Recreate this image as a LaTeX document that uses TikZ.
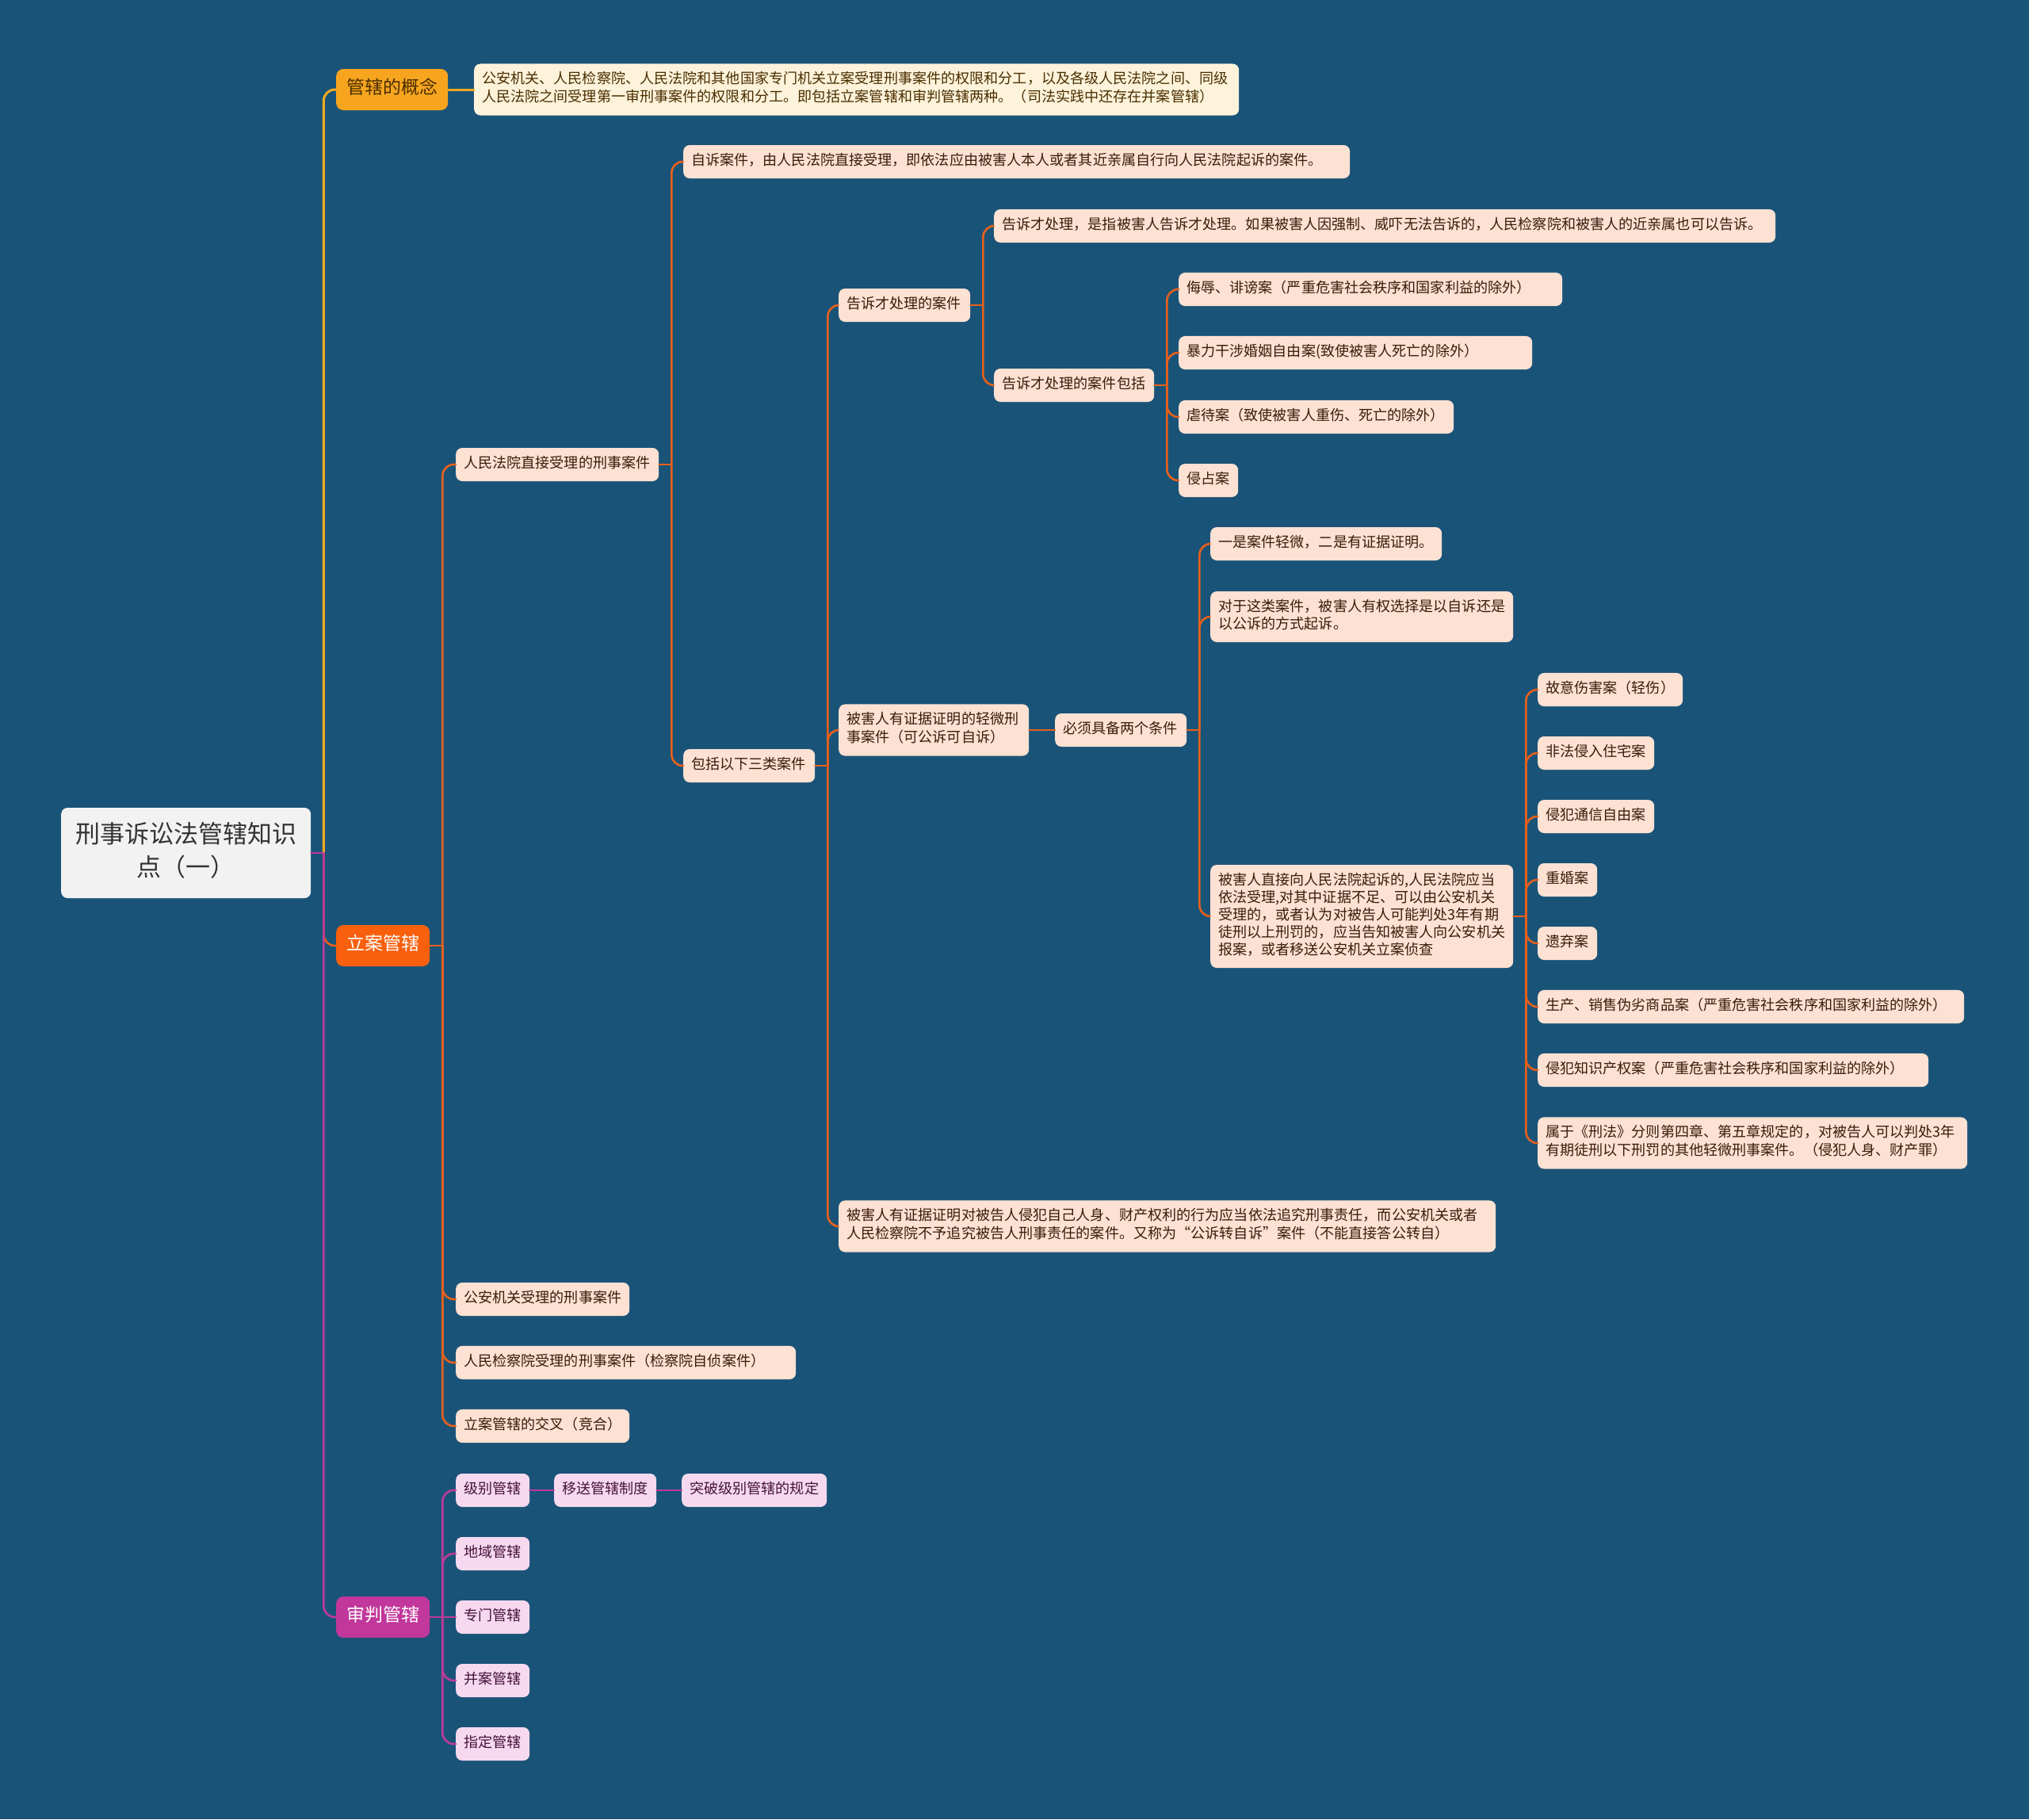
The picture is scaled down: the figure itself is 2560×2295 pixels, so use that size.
\documentclass[tikz,border=0pt]{standalone}
\usepackage{fontspec}
\setmainfont{Noto Sans CJK SC}
\definecolor{BgClr}{HTML}{1A5378}
\definecolor{RootClr}{HTML}{F2F2F2}
\definecolor{RootTxt}{HTML}{333333}
\definecolor{GxClr}{HTML}{F7A51F}
\definecolor{GxTxt}{HTML}{4A2E00}
\definecolor{GxLeaf}{HTML}{FDF3DB}
\definecolor{LaClr}{HTML}{F8600D}
\definecolor{LaLeaf}{HTML}{FDE1D2}
\definecolor{LaTxt}{HTML}{3A1C0C}
\definecolor{SpClr}{HTML}{C2379B}
\definecolor{SpLeaf}{HTML}{F6D9EF}
\definecolor{SpTxt}{HTML}{45123B}
\definecolor{LineO}{HTML}{E8601B}
\definecolor{LineM}{HTML}{BF3A9B}
\definecolor{LineY}{HTML}{F2AA1F}

\begin{document}
\begin{tikzpicture}[x=1pt,y=-1pt,
  box/.style={anchor=west,rounded corners=8pt,inner xsep=10pt,inner ysep=10pt,align=left,
    font={\fontsize{18.1pt}{22pt}\selectfont},
    execute at begin node=\strut,execute at end node=\strut},
  leaf/.style={box,fill=LaLeaf,text=LaTxt},
  pleaf/.style={box,fill=SpLeaf,text=SpTxt},
  mainbox/.style={box,align=center,inner ysep=11.5pt,rounded corners=9pt,
    font={\fontsize{23pt}{29pt}\selectfont}},
  rootbox/.style={box,align=center,fill=RootClr,text=RootTxt,inner xsep=12pt,inner ysep=15pt,
    font={\fontsize{31pt}{42pt}\selectfont}},
  ln/.style={line width=2.6pt,rounded corners=14pt,line cap=round},
  lnO/.style={ln,LineO},
  lnM/.style={ln,LineM},
  lnY/.style={ln,LineY,line width=3pt}]

\fill[BgClr] (0,-3) rectangle (2560,2292);
\useasboundingbox (0,-3) rectangle (2560,2292);

% root and main branches
\node[rootbox,text width=291pt] (rt) at (77,1073) {刑事诉讼法管辖知识\\点（一）};
\node[mainbox,fill=GxClr,text=GxTxt,text width=121pt] (gx) at (424,110) {管辖的概念};
\node[mainbox,fill=LaClr,text=white,text width=98pt] (la) at (424,1190) {立案管辖};
\node[mainbox,fill=SpClr,text=white,text width=98pt] (sp) at (424,2037) {审判管辖};

\node[box,fill=GxLeaf,text=GxTxt,text width=945pt] (gxt) at (598,110)
  {公安机关、人民检察院、人民法院和其他国家专门机关立案受理刑事案件的权限和分工，以及各级人民法院之间、同级\\人民法院之间受理第一审刑事案件的权限和分工。即包括立案管辖和审判管辖两种。（司法实践中还存在并案管辖）};

% 立案管辖
\node[leaf,text width=236pt] (fy) at (575,583) {人民法院直接受理的刑事案件};
\node[leaf,text width=199pt] (ga) at (575,1636) {公安机关受理的刑事案件};
\node[leaf,text width=409pt] (jc) at (575,1716) {人民检察院受理的刑事案件（检察院自侦案件）};
\node[leaf,text width=199pt] (jx) at (575,1796) {立案管辖的交叉（竞合）};

\node[leaf,text width=821pt] (zs) at (862,201) {自诉案件，由人民法院直接受理，即依法应由被害人本人或者其近亲属自行向人民法院起诉的案件。};
\node[leaf,text width=146pt] (bk) at (862,963) {包括以下三类案件};

\node[leaf,text width=146pt] (gs) at (1058,382) {告诉才处理的案件};
\node[leaf,text width=220pt] (qw) at (1058,918) {被害人有证据证明的轻微刑\\事案件（可公诉可自诉）};
\node[leaf,text width=809pt] (gz) at (1058,1544)
  {被害人有证据证明对被告人侵犯自己人身、财产权利的行为应当依法追究刑事责任，而公安机关或者\\人民检察院不予追究被告人刑事责任的案件。又称为“公诉转自诉”案件（不能直接答公转自）};

\node[leaf,text width=966pt] (gsd) at (1254,282) {告诉才处理，是指被害人告诉才处理。如果被害人因强制、威吓无法告诉的，人民检察院和被害人的近亲属也可以告诉。};
\node[leaf,text width=182pt] (gsb) at (1254,483) {告诉才处理的案件包括};

\node[leaf,text width=464pt] (wr) at (1487,362) {侮辱、诽谤案（严重危害社会秩序和国家利益的除外）};
\node[leaf,text width=426pt] (bl) at (1487,442) {暴力干涉婚姻自由案(致使被害人死亡的除外）};
\node[leaf,text width=327pt] (nd) at (1487,523) {虐待案（致使被害人重伤、死亡的除外）};
\node[leaf,text width=55pt] (qz) at (1487,603) {侵占案};

\node[leaf,text width=146pt] (tj) at (1331,918) {必须具备两个条件};

\node[leaf,text width=272pt] (tja) at (1527,683) {一是案件轻微，二是有证据证明。};
\node[leaf,text width=362pt] (tjb) at (1527,775) {对于这类案件，被害人有权选择是以自诉还是\\以公诉的方式起诉。};
\node[leaf,text width=362pt] (tjc) at (1527,1153)
  {被害人直接向人民法院起诉的,人民法院应当\\依法受理,对其中证据不足、可以由公安机关\\受理的，或者认为对被告人可能判处3年有期\\徒刑以上刑罚的，应当告知被害人向公安机关\\报案，或者移送公安机关立案侦查};

\node[leaf,text width=163pt] (sh) at (1940,867) {故意伤害案（轻伤）};
\node[leaf,text width=127pt] (zz) at (1940,947) {非法侵入住宅案};
\node[leaf,text width=127pt] (tx) at (1940,1027) {侵犯通信自由案};
\node[leaf,text width=55pt] (ch) at (1940,1107) {重婚案};
\node[leaf,text width=55pt] (yq) at (1940,1187) {遗弃案};
\node[leaf,text width=518pt] (wl) at (1940,1267) {生产、销售伪劣商品案（严重危害社会秩序和国家利益的除外）};
\node[leaf,text width=473pt] (zc) at (1940,1347) {侵犯知识产权案（严重危害社会秩序和国家利益的除外）};
\node[leaf,text width=522pt] (xf) at (1940,1439)
  {属于《刑法》分则第四章、第五章规定的，对被告人可以判处3年\\有期徒刑以下刑罚的其他轻微刑事案件。（侵犯人身、财产罪）};

% 审判管辖
\node[pleaf,text width=73pt] (jb) at (575,1877) {级别管辖};
\node[pleaf,text width=73pt] (dy) at (575,1957) {地域管辖};
\node[pleaf,text width=73pt] (zm) at (575,2037) {专门管辖};
\node[pleaf,text width=73pt] (ba) at (575,2117) {并案管辖};
\node[pleaf,text width=73pt] (zd) at (575,2197) {指定管辖};
\node[pleaf,text width=109pt] (yz) at (699,1877) {移送管辖制度};
\node[pleaf,text width=163pt] (tp) at (860,1877) {突破级别管辖的规定};

% connectors
\path (rt.east) ++(16,0) coordinate (rtS);
\draw[lnY] (rtS) |- (gx.west);
\draw[lnO] (rtS) |- (la.west);
\draw[lnM] (rtS) |- (sp.west);
\draw[lnM] (rt.east) -- (rtS);
\draw[lnY] (gx.east) -- (gxt.west);

\path (la.east) ++(16,0) coordinate (laS);
\draw[lnO] (la.east) -- (laS);
\foreach \c in {fy,ga,jc,jx} \draw[lnO] (laS) |- (\c.west);

\path (fy.east) ++(16,0) coordinate (fyS);
\draw[lnO] (fy.east) -- (fyS);
\foreach \c in {zs,bk} \draw[lnO] (fyS) |- (\c.west);

\path (bk.east) ++(16,0) coordinate (bkS);
\draw[lnO] (bk.east) -- (bkS);
\foreach \c in {gs,qw,gz} \draw[lnO] (bkS) |- (\c.west);

\path (gs.east) ++(16,0) coordinate (gsS);
\draw[lnO] (gs.east) -- (gsS);
\foreach \c in {gsd,gsb} \draw[lnO] (gsS) |- (\c.west);

\path (gsb.east) ++(16,0) coordinate (gsbS);
\draw[lnO] (gsb.east) -- (gsbS);
\foreach \c in {wr,bl,nd,qz} \draw[lnO] (gsbS) |- (\c.west);

\draw[lnO] (qw.east) -- (tj.west);

\path (tj.east) ++(16,0) coordinate (tjS);
\draw[lnO] (tj.east) -- (tjS);
\foreach \c in {tja,tjb,tjc} \draw[lnO] (tjS) |- (\c.west);

\path (tjc.east) ++(16,0) coordinate (tjcS);
\draw[lnO] (tjc.east) -- (tjcS);
\foreach \c in {sh,zz,tx,ch,yq,wl,zc,xf} \draw[lnO] (tjcS) |- (\c.west);

\path (sp.east) ++(16,0) coordinate (spS);
\draw[lnM] (sp.east) -- (zm.west);
\foreach \c in {jb,dy,ba,zd} \draw[lnM] (spS) |- (\c.west);
\draw[lnM] (jb.east) -- (yz.west);
\draw[lnM] (yz.east) -- (tp.west);

\end{tikzpicture}
\end{document}
